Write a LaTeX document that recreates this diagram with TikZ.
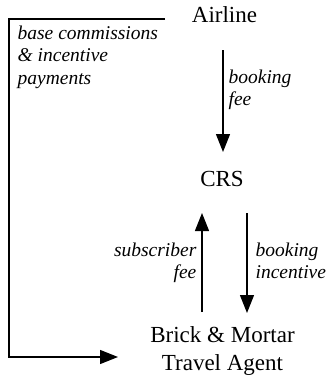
\documentclass[tikz,border=0pt]{standalone}
\usepackage{fontspec}
\setmainfont{Liberation Serif}
\usetikzlibrary{arrows.meta}
\begin{document}
\begin{tikzpicture}[x=1pt,y=-1pt,
  line width=1.3pt,
  arr/.style={-{Triangle[length=18pt,width=14pt]}},
  mainlbl/.style={inner sep=0pt,font=\fontsize{23}{28}\selectfont,align=center},
  flowlbl/.style={inner sep=0pt,font=\fontsize{19.5}{22.5}\selectfont\itshape}]
\useasboundingbox[fill=white] (0,0) rectangle (327,378);
\node[mainlbl,anchor=base] (airline) at (224.5,22) {Airline};
\node[mainlbl,anchor=base] (crs) at (222,186) {CRS};
\node[mainlbl] (agent) at (222.5,351) {Brick \& Mortar\\Travel Agent};
% labels
\node[flowlbl,anchor=north west,align=left] (commlbl) at (17,25) {base commissions\\\& incentive\\payments};
\node[flowlbl,anchor=north west,align=left] (feelbl) at (228,69) {booking\\fee};
\node[flowlbl,anchor=north east,align=right] (sublbl) at (197,242) {subscriber\\fee};
\node[flowlbl,anchor=north west,align=left] (inclbl) at (255,242) {booking\\incentive};
% connectors
\coordinate (c1) at (223,50);
\coordinate (c2) at (223,152);
\draw[arr] (c1) -- (c2);
\coordinate (s1) at (202,312);
\coordinate (s2) at (202,213);
\draw[arr] (s1) -- (s2);
\coordinate (b1) at (247,213);
\coordinate (b2) at (247,313);
\draw[arr] (b1) -- (b2);
\coordinate (l0) at (165,19);
\coordinate (l1) at (118,357);
\draw[arr] (l0) -- (9,19) |- (l1);
\end{tikzpicture}
\end{document}
